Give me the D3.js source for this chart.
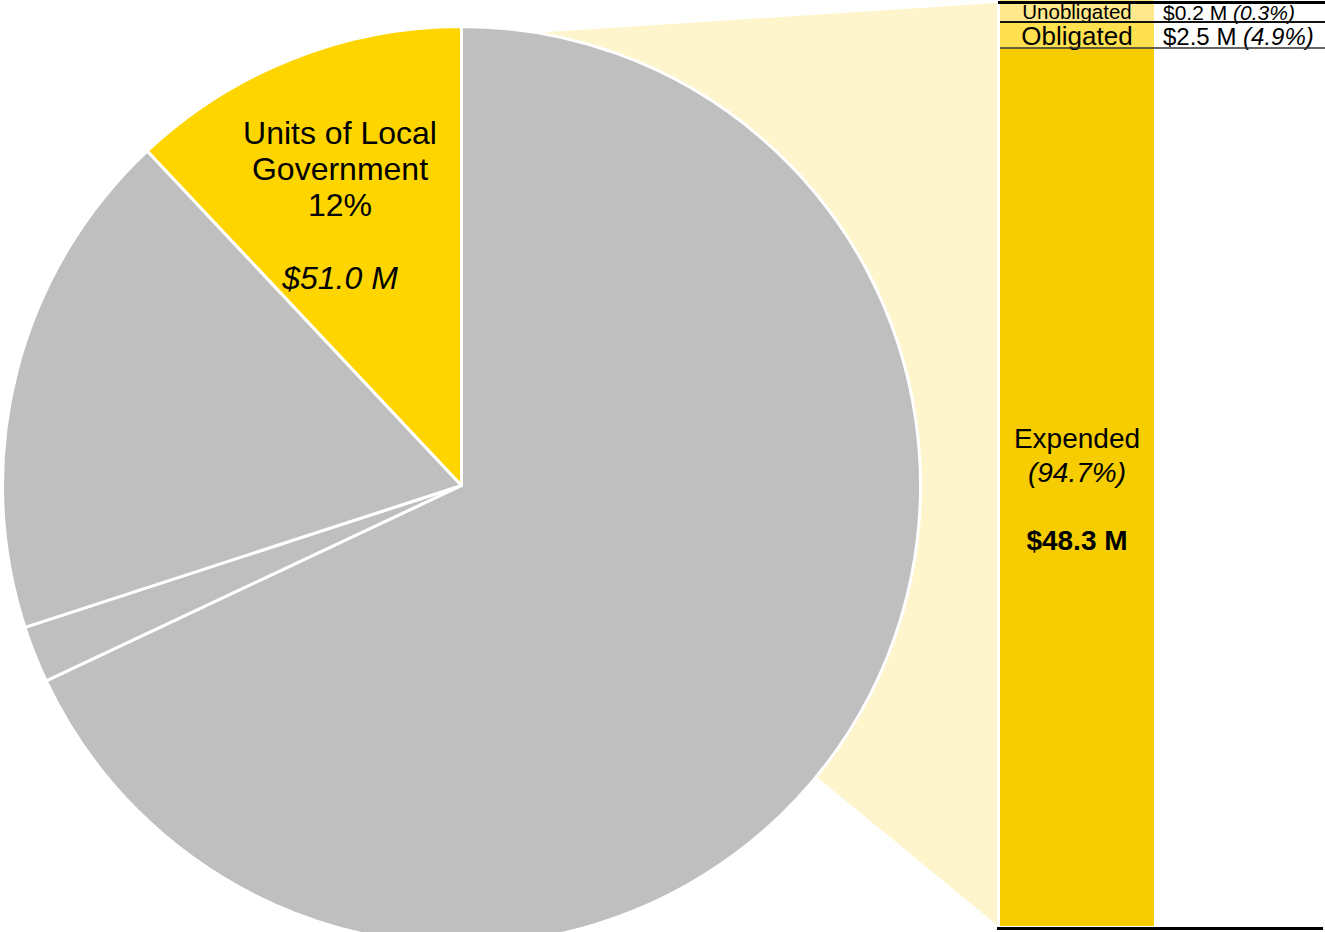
<!DOCTYPE html>
<html>
<head>
<meta charset="utf-8">
<script src="https://cdn.jsdelivr.net/npm/d3@7/dist/d3.min.js"></script>
<style>
  html, body { margin: 0; padding: 0; background: #fff; overflow: hidden; }
  svg { display: block; font-family: "Liberation Sans", Arial, sans-serif; }
</style>
</head>
<body>
<svg id="chart" width="1325" height="932"></svg>
<script>
// ---- data ----
const pieCategories = ["Other recipients A", "Other recipients B", "Other recipients C", "Units of Local Government"];
const piePercents = [68, 2, 18, 12];
const highlightCategory = "Units of Local Government";
const highlightAmount = 51.0; // $ M

const barCategories = ["Expended", "Obligated", "Unobligated"];
const barAmounts = [48.3, 2.5, 0.2];     // $ M
const barPercents = [94.7, 4.9, 0.3];    // %

// ---- layout / style ----
const W = 1325, H = 932;
const cx = 461.5, cy = 485.5, R = 459;
const barX0 = 1000, barX1 = 1154, barTop = 0, barBottom = 926;
const colors = {
  gray: "#bfbfbf", pieYellow: "#ffd500", connector: "#fff5cc",
  Expended: "#f5cd00", Obligated: "#ffe150", Unobligated: "#ffe98c"
};

const svg = d3.select("#chart");

// ---- connector (drawn behind pie) ----
const connTopAngle = 9.5 * Math.PI / 180;
const cp = [cx + R * Math.sin(connTopAngle), cy - R * Math.cos(connTopAngle)];
svg.append("polygon")
  .attr("points", [[barX0 - 3, 3], cp, [cx, cy], [barX0 - 3, 925]].map(p => p.join(",")).join(" "))
  .attr("fill", colors.connector);

// ---- pie ----
const pie = d3.pie().sort(null).value(d => d)(piePercents);
const arc = d3.arc().innerRadius(0).outerRadius(R);
const g = svg.append("g").attr("transform", `translate(${cx},${cy})`);
g.selectAll("path").data(pie).join("path")
  .attr("d", arc)
  .attr("fill", (d, i) => pieCategories[i] === highlightCategory ? colors.pieYellow : colors.gray)
  .attr("stroke", "#fff")
  .attr("stroke-width", 3)
  .attr("stroke-linejoin", "round");

// pie label
const hi = pieCategories.indexOf(highlightCategory);
const lbl = svg.append("text").attr("text-anchor", "middle").attr("font-size", 32).attr("fill", "#000");
["Units of Local", "Government", piePercents[hi] + "%"].forEach((t, i) => {
  lbl.append("tspan").attr("x", 340).attr("y", 144 + i * 36).text(t);
});
svg.append("text").attr("x", 340).attr("y", 289).attr("text-anchor", "middle")
  .attr("font-size", 32).attr("font-style", "italic").text(`$${highlightAmount.toFixed(1)} M`);

// ---- stacked bar ----
const y = d3.scaleLinear().domain([0, d3.sum(barPercents)]).range([barBottom, barTop]);
let acc = 0;
const stacks = barCategories.map((c, i) => {
  const s = { cat: c, y0: acc, y1: acc + barPercents[i] };
  acc += barPercents[i];
  return s;
});
svg.selectAll("rect.seg").data(stacks).join("rect")
  .attr("class", "seg")
  .attr("x", barX0).attr("width", barX1 - barX0)
  .attr("y", d => y(d.y1)).attr("height", d => y(d.y0) - y(d.y1))
  .attr("fill", d => colors[d.cat]);

// table rows for the small segments (top of bar)
const rows = [
  { cat: "Unobligated", top: 4, bottom: 22, fs: 20.5, base: 18.5, vfs: 21, vbase: 20 },
  { cat: "Obligated", top: 22, bottom: 48, fs: 26, base: 44.5, vfs: 24, vbase: 44.5 }
];
rows.forEach(r => {
  const i = barCategories.indexOf(r.cat);
  svg.append("rect").attr("x", barX0).attr("width", barX1 - barX0)
    .attr("y", r.top).attr("height", r.bottom - r.top).attr("fill", colors[r.cat]);
  svg.append("text").attr("x", (barX0 + barX1) / 2).attr("y", r.base)
    .attr("text-anchor", "middle").attr("font-size", r.fs).text(r.cat);
  const t = svg.append("text").attr("x", 1163).attr("y", r.vbase).attr("font-size", r.vfs);
  t.append("tspan").text(`$${barAmounts[i].toFixed(1)} M `);
  t.append("tspan").attr("font-style", "italic").text(`(${barPercents[i].toFixed(1)}%)`);
});

// table lines
svg.append("line").attr("x1", 998).attr("x2", W).attr("y1", 2.5).attr("y2", 2.5)
  .attr("stroke", "#000").attr("stroke-width", 3);
svg.append("line").attr("x1", barX0).attr("x2", W).attr("y1", 22).attr("y2", 22)
  .attr("stroke", "#111").attr("stroke-width", 2);
svg.append("line").attr("x1", barX0).attr("x2", W).attr("y1", 48).attr("y2", 48)
  .attr("stroke", "#333").attr("stroke-width", 1.5);
svg.append("line").attr("x1", 997).attr("x2", 1323).attr("y1", 928.5).attr("y2", 928.5)
  .attr("stroke", "#000").attr("stroke-width", 3);

// expended label
const ei = barCategories.indexOf("Expended");
const bx = (barX0 + barX1) / 2;
svg.append("text").attr("x", bx).attr("y", 448).attr("text-anchor", "middle")
  .attr("font-size", 28).text(barCategories[ei]);
svg.append("text").attr("x", bx).attr("y", 482).attr("text-anchor", "middle")
  .attr("font-size", 28).attr("font-style", "italic").text(`(${barPercents[ei].toFixed(1)}%)`);
svg.append("text").attr("x", bx).attr("y", 550).attr("text-anchor", "middle")
  .attr("font-size", 28).attr("font-weight", "bold").text(`$${barAmounts[ei].toFixed(1)} M`);
</script>
</body>
</html>
